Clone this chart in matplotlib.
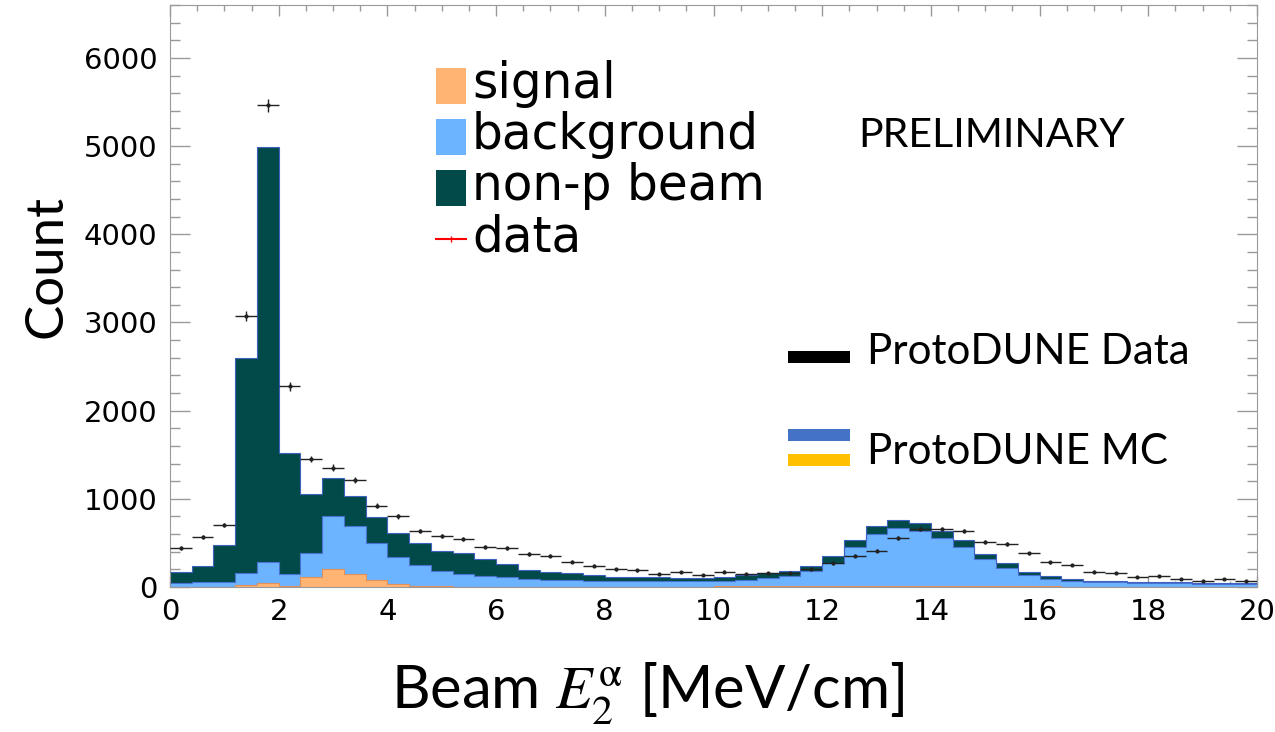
import matplotlib.pyplot as plt
import numpy as np
from matplotlib.ticker import MultipleLocator
from matplotlib.patches import Rectangle
from matplotlib.lines import Line2D

plt.rcParams['mathtext.fontset'] = 'stix'

# 50 bins of 0.4 MeV/cm between 0 and 20
bin_edges = np.linspace(0, 20, 51)

# MC stack components (counts per bin)
signal = [5, 5, 5, 25, 40, 15, 110, 205, 145, 78, 38, 15, 8, 5, 5, 5, 5, 5, 5, 5,
          5, 5, 5, 5, 5, 15, 15, 15, 15, 15, 15, 15, 15, 15, 15, 15, 15, 15, 15, 15,
          15, 5, 5, 5, 5, 5, 5, 5, 5, 5]
background = [40, 55, 55, 130, 243, 129, 272, 600, 550, 421, 298, 234, 173, 146, 120, 112, 82, 74, 70, 65,
              61, 59, 59, 59, 61, 55, 70, 90, 110, 166, 261, 435, 586, 658, 623, 544, 442, 299, 197, 117,
              79, 67, 52, 47, 44, 40, 37, 33, 33, 29]
nonp_beam = [129, 182, 416, 2438, 4707, 1372, 676, 435, 337, 298, 280, 250, 227, 238, 189, 147, 106, 95, 80, 66,
             49, 46, 44, 42, 40, 45, 51, 55, 60, 61, 75, 83, 91, 87, 84, 79, 76, 60, 56, 34,
             27, 19, 15, 12, 12, 12, 11, 11, 11, 11]
# ProtoDUNE data
data = [439, 567, 703, 3073, 5465, 2275, 1451, 1353, 1209, 922, 801, 638, 574, 544, 454, 442, 374, 355, 287, 242,
        200, 189, 151, 170, 136, 174, 147, 155, 155, 200, 268, 355, 412, 559, 661, 658, 638, 514, 488, 382,
        283, 249, 174, 159, 110, 128, 87, 72, 91, 64]

stack_names = ['signal', 'background', 'non-p beam']
stack_colors = ['#ffb473', '#6cb4ff', '#024a49']
edge_colors = ['#e0905a', '#4a70d0', '#3f62c0']

W, H = 1275, 732
fig = plt.figure(figsize=(W / 100, H / 100), dpi=100)
ax = fig.add_axes([170 / W, 1 - 587 / H, 1087 / W, 582 / H])

def px(x, y):
    return x / W, 1 - y / H

bottom = np.zeros(len(bin_edges) - 1)
for vals, col, ec in zip([signal, background, nonp_beam], stack_colors, edge_colors):
    top = bottom + np.array(vals)
    ax.stairs(top, bin_edges, baseline=bottom, fill=True, color=col, lw=0, zorder=2)
    ax.stairs(top, bin_edges, baseline=None, color=ec, lw=0.8, zorder=3)
    bottom = top

centers = 0.5 * (bin_edges[:-1] + bin_edges[1:])
data_arr = np.array(data, dtype=float)
ax.errorbar(centers, data_arr, xerr=0.2, yerr=np.sqrt(data_arr), fmt='o', ms=2,
            color='#222222', elinewidth=1.0, capsize=0, zorder=4)

ax.set_xlim(0, 20)
ax.set_ylim(0, 6600)
ax.xaxis.set_major_locator(MultipleLocator(2))
ax.xaxis.set_minor_locator(MultipleLocator(0.5))
ax.yaxis.set_major_locator(MultipleLocator(1000))
ax.yaxis.set_minor_locator(MultipleLocator(200))
ax.tick_params(which='both', direction='in', top=True, right=True, color='#999999',
               labelsize=21, width=1)
ax.tick_params(axis='x', which='major', length=8, pad=8)
ax.tick_params(axis='x', which='minor', length=4)
ax.tick_params(axis='y', which='major', length=14.4, pad=9)
ax.tick_params(axis='y', which='minor', length=7.2)
for s in ax.spines.values():
    s.set_color('#999999')

# ROOT style legend
for i, (name, col) in enumerate(zip(stack_names, stack_colors)):
    yc = 86 + 51 * i
    fig.add_artist(Rectangle(px(436, yc + 18), 30 / W, 36 / H, transform=fig.transFigure,
                             facecolor=col, edgecolor='none'))
    fig.text(*px(472, yc + 12), name, fontsize=35, family='DejaVu Sans', va='baseline')
yc = 86 + 51 * 3
fig.add_artist(Line2D([436 / W, 466 / W], [1 - yc / H] * 2, transform=fig.transFigure,
                      color='red', lw=1.5))
fig.add_artist(Line2D([451 / W], [1 - yc / H], transform=fig.transFigure,
                      color='red', marker='|', ms=5))
fig.text(*px(472, yc + 12), 'data', fontsize=35, family='DejaVu Sans', va='baseline')

fig.text(*px(858, 147), 'PRELIMINARY', fontsize=29.5, family='Lato', va='baseline')

# slide overlay legend
fig.add_artist(Rectangle(px(788, 363), 62 / W, 12 / H, transform=fig.transFigure,
                         facecolor='black', edgecolor='none'))
fig.add_artist(Rectangle(px(788, 441), 62 / W, 12 / H, transform=fig.transFigure,
                         facecolor='#4472c4', edgecolor='none'))
fig.add_artist(Rectangle(px(788, 466), 62 / W, 12 / H, transform=fig.transFigure,
                         facecolor='#ffc000', edgecolor='none'))
fig.text(*px(867, 364), 'ProtoDUNE Data', fontsize=30.3, family='Lato', va='baseline')
fig.text(*px(867, 464), 'ProtoDUNE MC', fontsize=30.3, family='Lato', va='baseline')

fig.text(*px(47, 266), 'Count', fontsize=38, family='Lato', rotation=90, ha='center', va='center')
fig.text(*px(391, 709), r'Beam $E_2^{\mathrm{\alpha}}$ [MeV/cm]', fontsize=43, family='Lato',
         va='baseline')

fig.savefig('out.png', dpi=100)
